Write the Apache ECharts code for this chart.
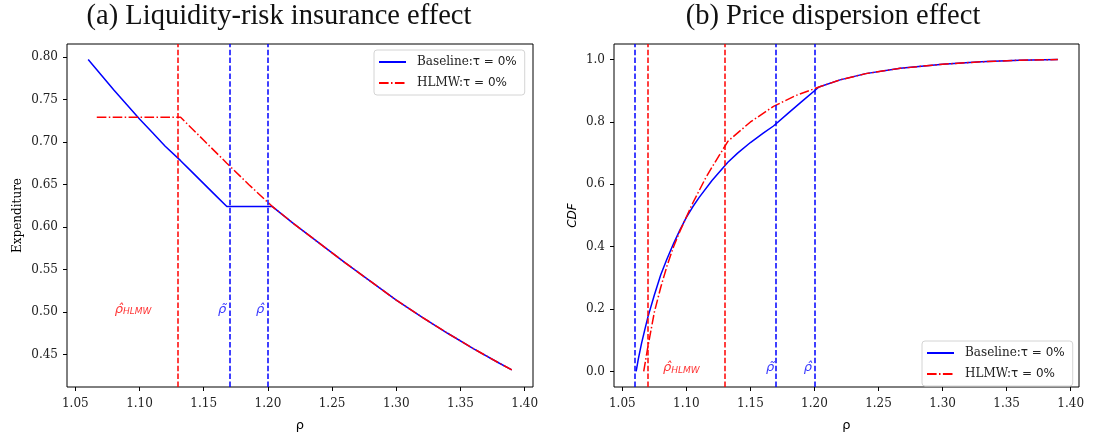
<!DOCTYPE html>
<html>
<head>
<meta charset="utf-8">
<script src="https://cdn.jsdelivr.net/npm/echarts@6.0.0/dist/echarts.min.js"></script>
<style>
html, body { margin: 0; padding: 0; background: #fff; }
#chart { width: 1093px; height: 437px; }
</style>
</head>
<body>
<div id="chart"></div>
<script>
// ---- (a) Liquidity-risk insurance effect : expenditure vs rho ----
const rhoBaseHeadA = [1.06, 1.07, 1.08, 1.09, 1.10, 1.11, 1.12, 1.132, 1.14, 1.15, 1.16, 1.168, 1.2035];
const expBaseHead  = [0.797, 0.779, 0.761, 0.744, 0.727, 0.711, 0.695, 0.678, 0.666, 0.651, 0.636, 0.624, 0.624];
const rhoHlmwHeadA = [1.0667, 1.132, 1.15, 1.168, 1.185, 1.2035];
const expHlmwHead  = [0.729, 0.729, 0.702, 0.675, 0.650, 0.624];
const rhoTailA = [1.22, 1.24, 1.26, 1.28, 1.30, 1.32, 1.34, 1.36, 1.38, 1.39];
const expTail  = [0.604, 0.581, 0.558, 0.536, 0.514, 0.494, 0.475, 0.457, 0.440, 0.432];

// ---- (b) Price dispersion effect : CDF vs rho ----
const rhoBaseHeadB = [1.0608, 1.0625, 1.065, 1.0676, 1.07, 1.075, 1.08, 1.085, 1.09, 1.095, 1.10, 1.105, 1.11, 1.12, 1.1324, 1.14, 1.15, 1.16, 1.168, 1.18, 1.19, 1.2035];
const cdfBaseHead  = [0, 0.04, 0.09, 0.135, 0.175, 0.245, 0.31, 0.362, 0.41, 0.454, 0.494, 0.528, 0.558, 0.612, 0.671, 0.70, 0.734, 0.764, 0.787, 0.83, 0.865, 0.912];
const rhoHlmwHeadB = [1.0667, 1.070, 1.075, 1.080, 1.085, 1.090, 1.095, 1.100, 1.105, 1.110, 1.115, 1.120, 1.126, 1.1324, 1.15, 1.168, 1.185, 1.2035];
const cdfHlmwHead  = [0, 0.08, 0.19, 0.27, 0.34, 0.40, 0.45, 0.495, 0.54, 0.58, 0.62, 0.655, 0.695, 0.738, 0.80, 0.85, 0.884, 0.912];
const rhoTailB = [1.22, 1.24, 1.267, 1.30, 1.33, 1.36, 1.39];
const cdfTail  = [0.935, 0.955, 0.972, 0.985, 0.993, 0.998, 1.0];

// cut-off rhos (vertical dashed lines)
const rhoHatHlmw = 1.132;
const rhoTilde = 1.168;
const rhoHat = 1.2035;
const rhoMinBase = 1.0608;
const rhoMinHlmw = 1.0667;

// tick labels
const xTicks = [1.05, 1.10, 1.15, 1.20, 1.25, 1.30, 1.35, 1.40];
const yTicksA = [0.45, 0.50, 0.55, 0.60, 0.65, 0.70, 0.75, 0.80];
const yTicksB = [0.0, 0.2, 0.4, 0.6, 0.8, 1.0];

// where the cut-off names are written (data coords)
const notesA = [[1.095, 0.503, 'hlmw'], [1.1644, 0.503, 'tilde'], [1.194, 0.503, 'hat']];
const notesB = [[1.096, 0.011, 'hlmw'], [1.1653, 0.011, 'tilde'], [1.1948, 0.011, 'hat']];

const BLUE = '#0000ff';
const RED = '#ff0000';
const DASHDOT = [9.6, 2.4, 1.5, 2.4];
const DASHED = [5.5, 2.4];
const BASE_NAME = 'Baseline:τ = 0%';
const HLMW_NAME = 'HLMW:τ = 0%';

const zip = (xs, ys) => xs.map((x, i) => [x, ys[i]]);

const chart = echarts.init(document.getElementById('chart'));

function xAxisFor(gridIndex) {
    return {
        type: 'value', gridIndex: gridIndex, min: 1.0435, max: 1.4065,
        name: 'ρ', nameLocation: 'middle', nameGap: 32,
        nameTextStyle: { fontFamily: 'DejaVu Sans', fontSize: 13, color: '#000' },
        axisLine: { show: false, onZero: false },
        splitLine: { show: false },
        axisTick: { show: true, length: 4, customValues: xTicks, lineStyle: { color: '#000' } },
        axisLabel: {
            customValues: xTicks, margin: 11, color: '#222',
            fontFamily: 'DejaVu Serif', fontSize: 12,
            formatter: v => v.toFixed(2)
        }
    };
}

function yAxisFor(gridIndex, min, max, ticks, digits) {
    return {
        type: 'value', gridIndex: gridIndex, min: min, max: max,
        nameLocation: 'middle',
        axisLine: { show: false, onZero: false }, splitLine: { show: false },
        axisTick: { show: true, length: 4, customValues: ticks, lineStyle: { color: '#000' } },
        axisLabel: { customValues: ticks, margin: 9, color: '#222', fontFamily: 'DejaVu Serif', fontSize: 12,
            formatter: v => v.toFixed(digits) }
    };
}

function vLines(values, color) {
    return {
        symbol: 'none', silent: true, animation: false,
        label: { show: false },
        lineStyle: { type: DASHED, width: 1.5, color: color },
        emphasis: { disabled: true },
        data: values.map(v => ({ xAxis: v }))
    };
}

function notes(points, xi, yi) {
    const colorOf = { hlmw: RED, tilde: BLUE, hat: BLUE };
    return {
        type: 'scatter', xAxisIndex: xi, yAxisIndex: yi, silent: true,
        symbolSize: 1, itemStyle: { color: 'rgba(0,0,0,0)' },
        data: points.map(p => ({
            value: [p[0], p[1]],
            label: {
                show: true, position: 'inside', color: colorOf[p[2]],
                formatter: p[2] === 'hlmw' ? '{r|ρ̂}{s|HLMW}' : (p[2] === 'tilde' ? '{r|ρ̃}' : '{r|ρ̂}'),
                rich: {
                    r: { fontFamily: 'DejaVu Sans', fontStyle: 'italic', fontSize: 13, color: colorOf[p[2]] },
                    s: { fontFamily: 'DejaVu Sans', fontStyle: 'italic', fontSize: 9, color: colorOf[p[2]], padding: [5, 0, 0, 0] }
                }
            }
        }))
    };
}

function legendAt(left, top) {
    return {
        left: left, top: top, orient: 'vertical', selectedMode: false,
        data: [BASE_NAME, HLMW_NAME],
        itemWidth: 27, itemHeight: 10, itemGap: 9,
        padding: [6, 8, 6, 4],
        borderColor: '#d4d4d4', borderWidth: 1, borderRadius: 3,
        backgroundColor: '#fff',
        itemStyle: { opacity: 0 },
        formatter: name => {
            const parts = name.split(':');
            return '{s|' + parts[0] + ':}{m|' + parts[1] + '}';
        },
        textStyle: {
            padding: [0, 0, 0, 6],
            rich: {
                s: { fontFamily: 'DejaVu Serif', fontSize: 12, color: '#222' },
                m: { fontFamily: 'DejaVu Sans', fontSize: 12, color: '#222' }
            }
        }
    };
}

const titleStyle = { fontFamily: 'Liberation Serif', fontSize: 28.5, fontWeight: 'normal', color: '#111' };

const yA = yAxisFor(0, 0.4118, 0.8152, yTicksA, 2);
yA.name = 'Expenditure';
yA.nameGap = 43;
yA.nameTextStyle = { fontFamily: 'DejaVu Serif', fontSize: 12, color: '#000' };
const yB = yAxisFor(1, -0.05, 1.05, yTicksB, 1);
yB.name = 'CDF';
yB.nameGap = 35;
yB.nameTextStyle = { fontFamily: 'DejaVu Sans', fontStyle: 'italic', fontSize: 12, color: '#000' };

const option = {
    animation: false,
    backgroundColor: '#fff',
    title: [
        { text: '(a) Liquidity-risk insurance effect', left: 274, top: -3, textAlign: 'center', textStyle: titleStyle },
        { text: '(b) Price dispersion effect', left: 828, top: -3, textAlign: 'center', textStyle: titleStyle }
    ],
    legend: [legendAt(374, 50), legendAt(922, 341)],
    grid: [
        { left: 67, top: 44, width: 466, height: 348, show: true, borderColor: '#000', borderWidth: 1 },
        { left: 614, top: 44, width: 465, height: 348, show: true, borderColor: '#000', borderWidth: 1 }
    ],
    xAxis: [xAxisFor(0), xAxisFor(1)],
    yAxis: [yA, yB],
    series: [
        {
            name: BASE_NAME, type: 'line', xAxisIndex: 0, yAxisIndex: 0,
            symbol: 'none', lineStyle: { color: BLUE, width: 1.5 }, itemStyle: { color: BLUE },
            data: zip(rhoBaseHeadA.concat(rhoTailA), expBaseHead.concat(expTail)),
            markLine: vLines([rhoTilde, rhoHat], BLUE)
        },
        {
            name: HLMW_NAME, type: 'line', xAxisIndex: 0, yAxisIndex: 0,
            symbol: 'none', lineStyle: { color: RED, width: 1.5, type: DASHDOT }, itemStyle: { color: RED },
            data: zip(rhoHlmwHeadA.concat(rhoTailA), expHlmwHead.concat(expTail)),
            markLine: vLines([rhoHatHlmw], RED)
        },
        {
            name: BASE_NAME, type: 'line', xAxisIndex: 1, yAxisIndex: 1,
            symbol: 'none', lineStyle: { color: BLUE, width: 1.5 }, itemStyle: { color: BLUE },
            data: zip(rhoBaseHeadB.concat(rhoTailB), cdfBaseHead.concat(cdfTail)),
            markLine: vLines([rhoMinBase, rhoTilde, rhoHat], BLUE)
        },
        {
            name: HLMW_NAME, type: 'line', xAxisIndex: 1, yAxisIndex: 1,
            symbol: 'none', lineStyle: { color: RED, width: 1.5, type: DASHDOT }, itemStyle: { color: RED },
            data: zip(rhoHlmwHeadB.concat(rhoTailB), cdfHlmwHead.concat(cdfTail)),
            markLine: vLines([rhoMinHlmw, rhoHatHlmw], RED)
        },
        notes(notesA, 0, 0),
        notes(notesB, 1, 1)
    ]
};

chart.setOption(option);
</script>
</body>
</html>
